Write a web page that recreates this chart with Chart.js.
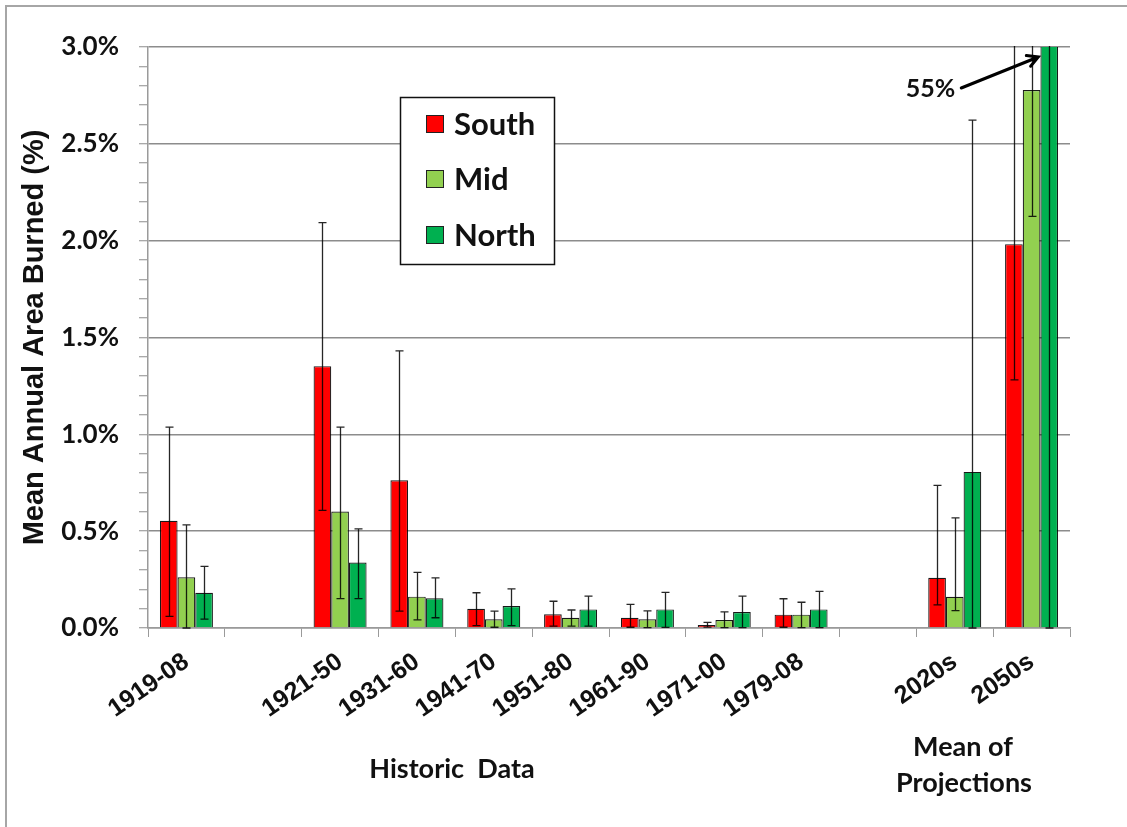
<!DOCTYPE html>
<html>
<head>
<meta charset="utf-8">
<title>Mean Annual Area Burned</title>
<script src="https://cdn.jsdelivr.net/npm/chart.js@4.4.1/dist/chart.umd.min.js"></script>
<style>
    html, body { margin: 0; padding: 0; background: #fff; }
    #wrap { position: relative; width: 1127px; height: 827px; }
</style>
</head>
<body>
<div id="wrap"><canvas id="burnChart"></canvas></div>
<script>
// Periods on the x axis (blank slots are gaps in the original)
const categories = ['1919-08', '', '1921-50', '1931-60', '1941-70', '1951-80', '1961-90', '1971-00', '1979-08', '', '2020s', '2050s'];

// Mean annual area burned (%)
const southValues = [0.554, null, 1.352, 0.763, 0.099, 0.071, 0.053, 0.015, 0.069, null, 0.259, 1.982];
const midValues   = [0.262, null, 0.601, 0.162, 0.045, 0.053, 0.045, 0.041, 0.069, null, 0.161, 2.778];
const northValues = [0.182, null, 0.338, 0.154, 0.113, 0.096, 0.096, 0.083, 0.096, null, 0.806, 55];

// Error bar ends (low / high)
const southLow  = [0.060, null, 0.607, 0.087, 0.012, 0.010, 0.004, 0.005, 0.004, null, 0.119, 1.281];
const southHigh = [1.037, null, 2.093, 1.431, 0.182, 0.138, 0.122, 0.029, 0.151, null, 0.736, 3.6];
const midLow    = [0.000, null, 0.152, 0.042, 0.004, 0.010, 0.002, 0.002, 0.002, null, 0.090, 2.125];
const midHigh   = [0.532, null, 1.037, 0.287, 0.087, 0.093, 0.088, 0.083, 0.133, null, 0.569, 3.5];
const northLow  = [0.046, null, 0.152, 0.053, 0.012, 0.010, 0.003, 0.002, 0.002, null, 0.000, 0];
const northHigh = [0.318, null, 0.512, 0.259, 0.202, 0.165, 0.184, 0.165, 0.189, null, 2.622, 100];

const yTickMin = 0;
const yTickMax = 3;
const yMinorStep = 0.1;

const seriesNames = ['South', 'Mid', 'North'];
const seriesColors = ['#ff0000', '#92d050', '#00b050'];
const errorLows = [southLow, midLow, northLow];
const errorHighs = [southHigh, midHigh, northHigh];

const isMajor = v => Math.abs(v * 2 - Math.round(v * 2)) < 1e-6;

// Page frame, error bars, legend, annotations
const decorPlugin = {
    id: 'decor',
    beforeDraw(chart) {
        const ctx = chart.ctx;
        ctx.save();
        ctx.strokeStyle = '#a6a6a6';
        ctx.lineWidth = 2;
        ctx.beginPath();
        ctx.moveTo(6, 827);
        ctx.lineTo(6, 6);
        ctx.lineTo(1127, 6);
        ctx.stroke();
        ctx.restore();
    },
    afterDatasetsDraw(chart) {
        const ctx = chart.ctx;
        const area = chart.chartArea;
        const yScale = chart.scales.y;
        ctx.save();
        ctx.beginPath();
        ctx.rect(area.left, area.top - 1, area.right - area.left, area.bottom - area.top + 2);
        ctx.clip();
        ctx.strokeStyle = 'rgba(0,0,0,0.85)';
        ctx.lineWidth = 1.3;
        chart.data.datasets.forEach((ds, i) => {
            const meta = chart.getDatasetMeta(i);
            meta.data.forEach((bar, j) => {
                const lo = errorLows[i][j];
                const hi = errorHighs[i][j];
                if (lo === null || hi === null || ds.data[j] === null) return;
                const x = Math.round(bar.x) + 0.5;
                const yLo = yScale.getPixelForValue(lo);
                const yHi = yScale.getPixelForValue(hi);
                ctx.beginPath();
                ctx.moveTo(x, yLo);
                ctx.lineTo(x, yHi);
                ctx.moveTo(x - 4, yHi);
                ctx.lineTo(x + 4, yHi);
                ctx.moveTo(x - 4, yLo);
                ctx.lineTo(x + 4, yLo);
                ctx.stroke();
            });
        });
        ctx.restore();
    },
    afterDraw(chart) {
        const ctx = chart.ctx;
        const area = chart.chartArea;
        ctx.save();

        // legend box
        const lx = 400, ly = 97, lw = 154, lh = 167;
        ctx.fillStyle = '#fff';
        ctx.fillRect(lx, ly, lw, lh);
        ctx.strokeStyle = '#111';
        ctx.lineWidth = 1.5;
        ctx.strokeRect(lx + 0.5, ly + 0.5, lw, lh);
        ctx.font = 'bold 31px Lato';
        ctx.textBaseline = 'middle';
        ctx.textAlign = 'left';
        const rowY = [124, 179, 235];
        seriesNames.forEach((name, i) => {
            ctx.fillStyle = seriesColors[i];
            ctx.fillRect(426, rowY[i] - 9, 18, 18);
            ctx.strokeStyle = '#222';
            ctx.lineWidth = 1;
            ctx.strokeRect(426.5, rowY[i] - 8.5, 17, 17);
            ctx.fillStyle = '#111';
            ctx.fillText(name, 454, rowY[i] + 1);
        });

        // group labels under the axis
        ctx.textAlign = 'center';
        ctx.font = 'bold 27px Lato';
        ctx.fillText('Historic  Data', 452, 769);
        ctx.fillText('Mean of', 963, 747);
        ctx.fillText('Projections', 964, 783);

        // arrow to the off-scale North 2050s bar
        const northBar = chart.getDatasetMeta(2).data[11];
        const hx = northBar.x - 11, hy = area.top + 10;
        const sx = hx - 77, sy = hy + 31;
        ctx.strokeStyle = '#000';
        ctx.lineWidth = 3;
        ctx.lineCap = 'round';
        ctx.beginPath();
        ctx.moveTo(sx, sy);
        ctx.lineTo(hx, hy);
        const ang = Math.atan2(hy - sy, hx - sx);
        ctx.moveTo(hx - 12 * Math.cos(ang - 0.5), hy - 12 * Math.sin(ang - 0.5));
        ctx.lineTo(hx, hy);
        ctx.lineTo(hx - 12 * Math.cos(ang + 0.5), hy - 12 * Math.sin(ang + 0.5));
        ctx.stroke();
        ctx.textAlign = 'right';
        ctx.font = 'bold 25px Lato';
        ctx.fillStyle = '#111';
        ctx.fillText('55%', sx - 6, sy + 1);

        ctx.restore();
    }
};

const chartCtx = document.getElementById('burnChart').getContext('2d');
new Chart(chartCtx, {
    type: 'bar',
    data: {
        labels: categories,
        datasets: seriesNames.map((name, i) => ({
            label: name,
            data: [southValues, midValues, northValues][i],
            backgroundColor: seriesColors[i],
            borderColor: 'rgba(0,0,0,0.9)',
            borderWidth: 1.2,
            categoryPercentage: 0.69,
            barPercentage: 1.0
        }))
    },
    options: {
        responsive: true,
        maintainAspectRatio: false,
        animation: false,
        layout: { padding: { top: 47, right: 57, left: 0, bottom: 0 } },
        plugins: {
            legend: { display: false },
            tooltip: { enabled: false }
        },
        scales: {
            x: {
                afterFit: scale => { scale.height = 199; },
                grid: {
                    offset: true,
                    drawOnChartArea: false,
                    drawTicks: true,
                    tickLength: 9,
                    tickColor: '#9a9a9a'
                },
                border: { color: '#9a9a9a', width: 1.5 },
                ticks: {
                    autoSkip: false,
                    minRotation: 35,
                    maxRotation: 35,
                    padding: 10,
                    color: '#111',
                    font: { family: 'Liberation Sans', weight: 'bold', size: 25 }
                }
            },
            y: {
                min: yTickMin,
                max: yTickMax,
                afterFit: scale => { scale.width = 148; },
                grid: {
                    color: c => isMajor(c.tick.value) ? '#8c8c8c' : 'rgba(0,0,0,0)',
                    lineWidth: 1.5,
                    tickColor: '#8c8c8c',
                    tickLength: 9,
                    tickWidth: 1
                },
                border: { color: '#9a9a9a', width: 1.5 },
                ticks: {
                    stepSize: yMinorStep,
                    autoSkip: false,
                    padding: 20,
                    color: '#111',
                    font: { family: 'Lato', weight: 'bold', size: 26 },
                    callback: v => isMajor(v) ? v.toFixed(1) + '%' : ''
                },
                title: {
                    display: true,
                    text: 'Mean Annual Area Burned (%)',
                    color: '#111',
                    padding: { top: 18, bottom: 0 },
                    font: { family: 'Liberation Sans', weight: 'bold', size: 29 }
                }
            }
        }
    },
    plugins: [decorPlugin]
});
</script>
</body>
</html>
